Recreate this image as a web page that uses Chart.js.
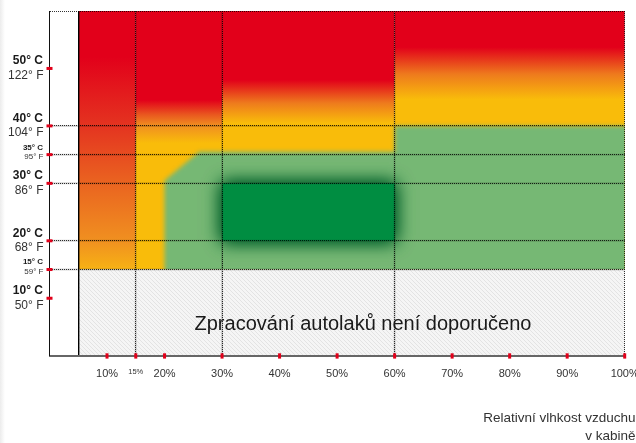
<!DOCTYPE html>
<html><head><meta charset="utf-8">
<script src="https://cdn.jsdelivr.net/npm/chart.js@4.4.1/dist/chart.umd.min.js"></script>
<style>
html,body{margin:0;padding:0;}
body{width:636px;height:443px;overflow:hidden;background:linear-gradient(to right,#ececec 0,#fff 5px);}
#wrap{width:636px;height:443px;position:relative;}
canvas{display:block;}
</style></head><body>
<div id="wrap"><canvas id="c" width="636" height="443"></canvas></div>
<script>
// ---- x axis: relative humidity (%)
const humidityTicks = [10, 15, 20, 30, 40, 50, 60, 70, 80, 90, 100];
const humidityLabels = ['10%', '15%', '20%', '30%', '40%', '50%', '60%', '70%', '80%', '90%', '100%'];
const humidityMinor = [15];
const humidityGrid = [15, 30, 60, 100];
const humidityStart = 5;
// ---- y axis: temperature
const tempTicks = [10, 15, 20, 30, 35, 40, 50];
const tempC = ['10° C', '15° C', '20° C', '30° C', '35° C', '40° C', '50° C'];
const tempF = ['50° F', '59° F', '68° F', '86° F', '95° F', '104° F', '122° F'];
const tempMinor = [15, 35];
const tempGrid = [15, 20, 30, 35, 40, 60];
// ---- zone columns (humidity ranges) and their vertical colour stops (°C)
const columnFrom = [5, 15, 30, 60];
const columnTo = [15, 30, 60, 100];
const columnStopTemps = [
  [60, 52, 40, 30, 20, 15],
  [60, 44.5, 42, 40, 37, 15],
  [60, 48, 44, 40.5, 15],
  [60, 53.7, 49, 44.6, 15]
];
const columnStopColors = [
  ['red', 'red', 'redOrange', 'orange', 'amber', 'amberLight'],
  ['red', 'red', 'orangeRed', 'amber', 'yellow', 'yellow'],
  ['red', 'red', 'orangeMid', 'yellow', 'yellow'],
  ['red', 'red', 'orangeMid', 'yellow', 'yellow']
];
// ---- acceptable zone (light green) outline
const okZoneHumidity = [20, 20, 26, 60, 60, 100, 100];
const okZoneTemp = [15, 30.5, 35.5, 35.5, 40, 40, 15];
// ---- optimal zone (dark green)
const optimalHumidity = [30, 60];
const optimalTemp = [20, 30];
// ---- not recommended zone
const badHumidity = [5, 100];
const badTemp = [0, 15];
const badText = 'Zpracování autolaků není doporučeno';
const badTextAt = [54.5, 4.4];
const axisTitle = ['Relativní vlhkost vzduchu', 'v kabině'];

const FONT = '"Liberation Sans", Arial, Helvetica, sans-serif';
const palette = {
  red: '#e2001a', redOrange: '#e43420', orange: '#ea6420', amber: '#f09020',
  amberLight: '#f7b214', orangeRed: '#e9561f', orangeMid: '#ee7a1d', yellow: '#f9bc0a',
  green: '#76b874', darkGreen: '#008d41', darkGreenShadow: '#00602a', tick: '#e2001a'
};

function hatchPattern(ctx) {
  const t = document.createElement('canvas');
  t.width = 4; t.height = 4;
  const c = t.getContext('2d');
  c.fillStyle = '#f5f5f5'; c.fillRect(0, 0, 4, 4);
  c.fillStyle = '#e3e3e3';
  for (let i = 0; i < 4; i++) c.fillRect(i, i, 1, 1);
  return ctx.createPattern(t, 'repeat');
}

const zonesPlugin = {
  id: 'zones',
  beforeDraw(chart) {
    const { ctx, scales: { x, y } } = chart;
    const X = v => x.getPixelForValue(v), Y = v => y.getPixelForValue(v);
    ctx.save();
    // colour columns
    columnFrom.forEach((h0, i) => {
      const x0 = X(h0), x1 = X(columnTo[i]);
      const yTop = Y(60), yBot = Y(15);
      const g = ctx.createLinearGradient(0, yTop, 0, yBot);
      columnStopTemps[i].forEach((t, j) => {
        g.addColorStop(Math.min(1, Math.max(0, (Y(t) - yTop) / (yBot - yTop))), palette[columnStopColors[i][j]]);
      });
      ctx.fillStyle = g;
      ctx.fillRect(x0, yTop, x1 - x0, yBot - yTop);
    });
    // acceptable zone
    ctx.save();
    const cx0 = X(5), cx1 = X(100), cy0 = Y(60), cy1 = Y(15);
    ctx.beginPath(); ctx.rect(cx0, cy0, cx1 - cx0, cy1 - cy0); ctx.clip();
    ctx.filter = 'blur(2px)';
    ctx.beginPath();
    okZoneHumidity.forEach((h, i) => {
      let px = X(h), py = Y(okZoneTemp[i]);
      if (h >= 100) px += 12;
      if (okZoneTemp[i] <= 15) py += 12;
      if (i) ctx.lineTo(px, py); else ctx.moveTo(px, py);
    });
    ctx.closePath();
    ctx.fillStyle = palette.green; ctx.fill();
    ctx.filter = 'none';
    // optimal zone with glow
    const ox0 = X(optimalHumidity[0]), ox1 = X(optimalHumidity[1]);
    const oy0 = Y(optimalTemp[1]), oy1 = Y(optimalTemp[0]);
    ctx.shadowColor = palette.darkGreenShadow;
    ctx.shadowBlur = 17;
    ctx.fillStyle = palette.darkGreen;
    ctx.fillRect(ox0, oy0, ox1 - ox0, oy1 - oy0);
    ctx.fillRect(ox0, oy0, ox1 - ox0, oy1 - oy0);
    ctx.restore();
    // not recommended zone
    ctx.fillStyle = hatchPattern(ctx);
    ctx.fillRect(X(badHumidity[0]), Y(badTemp[1]), X(badHumidity[1]) - X(badHumidity[0]), Y(badTemp[0]) - Y(badTemp[1]));
    // soft bands under the dotted grid lines
    ctx.strokeStyle = 'rgba(0,0,0,0.16)';
    ctx.lineWidth = 2;
    tempGrid.filter(t => t < 60).forEach(t => {
      ctx.beginPath(); ctx.moveTo(X(0), Y(t)); ctx.lineTo(X(100), Y(t)); ctx.stroke();
    });
    humidityGrid.filter(h => h < 100).forEach(h => {
      ctx.beginPath(); ctx.moveTo(X(h), Y(0)); ctx.lineTo(X(h), Y(60)); ctx.stroke();
    });
    ctx.restore();
  },
  afterDraw(chart) {
    const { ctx, scales: { x, y } } = chart;
    const X = v => x.getPixelForValue(v), Y = v => y.getPixelForValue(v);
    ctx.save();
    // zone text
    ctx.fillStyle = '#1a1a1a';
    ctx.font = '20px ' + FONT;
    ctx.textAlign = 'center'; ctx.textBaseline = 'alphabetic';
    ctx.fillText(badText, X(badTextAt[0]), Y(badTextAt[1]));
    // y labels (°C bold / °F)
    ctx.textAlign = 'right'; ctx.textBaseline = 'middle';
    const lx = y.right - 6.5;
    tempTicks.forEach((t, i) => {
      const py = Y(t), minor = tempMinor.includes(t);
      const s = minor ? 8 : 12;
      ctx.font = 'bold ' + s + 'px ' + FONT; ctx.fillStyle = '#1a1a1a';
      ctx.fillText(tempC[i], lx, py - 7.3);
      ctx.font = s + 'px ' + FONT; ctx.fillStyle = '#333';
      ctx.fillText(tempF[i], lx + 0.5, py + (minor ? 2.2 : 7.2));
    });
    // red tick marks
    ctx.fillStyle = palette.tick;
    tempTicks.forEach(t => ctx.fillRect(X(0) - 3, Y(t) - 1.5, 6, 3));
    humidityTicks.forEach(h => ctx.fillRect(X(h) - 1.5, Y(0) - 2.4, 3, 5.3));
    // x axis title
    ctx.fillStyle = '#333';
    ctx.font = '13.5px ' + FONT;
    ctx.textAlign = 'right'; ctx.textBaseline = 'middle';
    ctx.fillText(axisTitle[0], 635.5, 418.7);
    ctx.fillText(axisTitle[1], 635.5, 436.7);
    ctx.restore();
  }
};

new Chart(document.getElementById('c'), {
  type: 'scatter',
  data: { datasets: [] },
  options: {
    responsive: false,
    animation: false,
    devicePixelRatio: 1,
    layout: { padding: { top: 11, right: 11.3, left: 0, bottom: 0 } },
    plugins: { legend: { display: false }, tooltip: { enabled: false }, title: { display: false } },
    scales: {
      x: {
        type: 'linear', min: 0, max: 100,
        afterBuildTicks: s => { s.ticks = [humidityStart].concat(humidityTicks).map(v => ({ value: v })); },
        afterFit: s => { s.height = 87.3; s.paddingLeft = 0; s.paddingRight = 0; },
        ticks: {
          autoSkip: false, maxRotation: 0, minRotation: 0, padding: 12, color: '#333',
          font: c => ({ family: FONT, size: (c.tick && humidityMinor.includes(c.tick.value)) ? 7.5 : 11 }),
          callback: v => { const i = humidityTicks.indexOf(v); return i < 0 ? '' : humidityLabels[i]; }
        },
        grid: {
          drawTicks: false,
          color: c => (c.tick && c.tick.value === humidityStart) ? '#000' :
            (c.tick && humidityGrid.includes(c.tick.value)) ? 'rgba(0,0,0,0.8)' : 'rgba(0,0,0,0)',
          lineWidth: c => (c.tick && c.tick.value === humidityStart) ? 1.4 : 1
        },
        border: {
          display: true, color: '#666', width: 2,
          dash: c => (c.tick && c.tick.value === humidityStart) ? [] : [1, 1]
        }
      },
      y: {
        type: 'linear', min: 0, max: 60,
        afterBuildTicks: s => { s.ticks = [0].concat(tempTicks, [60]).map(v => ({ value: v })); },
        afterFit: s => { s.width = 49.5; s.paddingTop = 0; s.paddingBottom = 0; },
        ticks: { display: false },
        grid: {
          drawTicks: false,
          color: c => (c.tick && tempGrid.includes(c.tick.value)) ? 'rgba(0,0,0,0.8)' : 'rgba(0,0,0,0)',
          lineWidth: 1
        },
        border: { display: true, color: '#111', width: 1, dash: [1, 1] }
      }
    }
  },
  plugins: [zonesPlugin]
});
</script>
</body></html>
